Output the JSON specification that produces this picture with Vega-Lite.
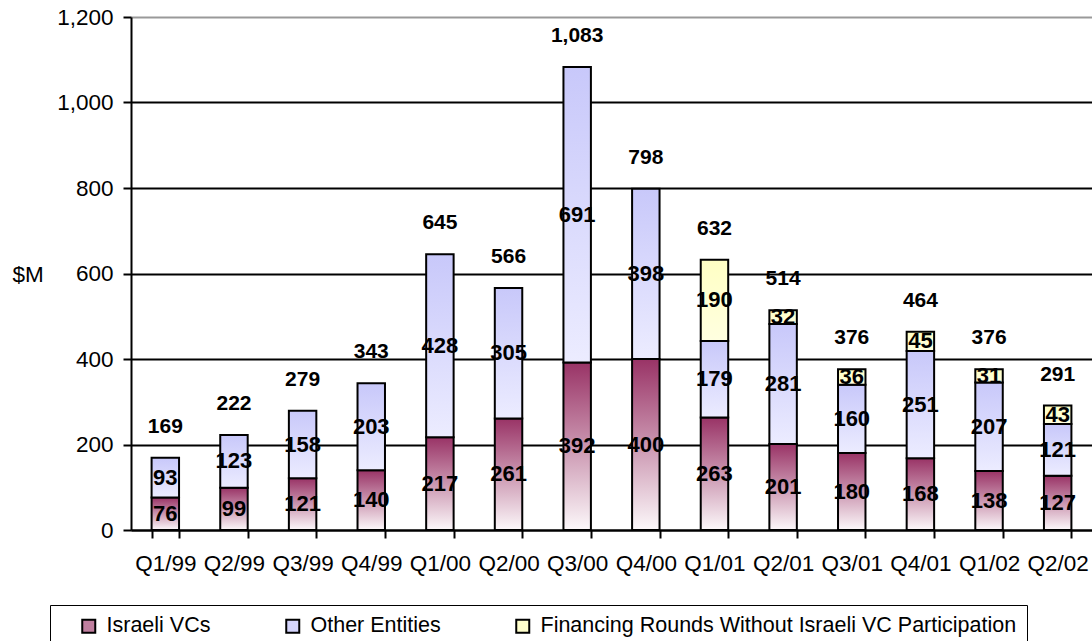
{
  "$schema": "https://vega.github.io/schema/vega-lite/v6.json",
  "width": 961,
  "height": 513,
  "autosize": "none",
  "padding": {"left": 131, "top": 17, "right": 0, "bottom": 111},
  "config": {"font": "Liberation Sans", "view": {"stroke": null}},
  "data": {
    "values": [
      {"quarter": "Q1/99", "series": "Israeli VCs", "amount": 76},
      {"quarter": "Q1/99", "series": "Other Entities", "amount": 93},
      {"quarter": "Q2/99", "series": "Israeli VCs", "amount": 99},
      {"quarter": "Q2/99", "series": "Other Entities", "amount": 123},
      {"quarter": "Q3/99", "series": "Israeli VCs", "amount": 121},
      {"quarter": "Q3/99", "series": "Other Entities", "amount": 158},
      {"quarter": "Q4/99", "series": "Israeli VCs", "amount": 140},
      {"quarter": "Q4/99", "series": "Other Entities", "amount": 203},
      {"quarter": "Q1/00", "series": "Israeli VCs", "amount": 217},
      {"quarter": "Q1/00", "series": "Other Entities", "amount": 428},
      {"quarter": "Q2/00", "series": "Israeli VCs", "amount": 261},
      {"quarter": "Q2/00", "series": "Other Entities", "amount": 305},
      {"quarter": "Q3/00", "series": "Israeli VCs", "amount": 392},
      {"quarter": "Q3/00", "series": "Other Entities", "amount": 691},
      {"quarter": "Q4/00", "series": "Israeli VCs", "amount": 400},
      {"quarter": "Q4/00", "series": "Other Entities", "amount": 398},
      {"quarter": "Q1/01", "series": "Israeli VCs", "amount": 263},
      {"quarter": "Q1/01", "series": "Other Entities", "amount": 179},
      {"quarter": "Q1/01", "series": "Financing Rounds Without Israeli VC Participation", "amount": 190},
      {"quarter": "Q2/01", "series": "Israeli VCs", "amount": 201},
      {"quarter": "Q2/01", "series": "Other Entities", "amount": 281},
      {"quarter": "Q2/01", "series": "Financing Rounds Without Israeli VC Participation", "amount": 32},
      {"quarter": "Q3/01", "series": "Israeli VCs", "amount": 180},
      {"quarter": "Q3/01", "series": "Other Entities", "amount": 160},
      {"quarter": "Q3/01", "series": "Financing Rounds Without Israeli VC Participation", "amount": 36},
      {"quarter": "Q4/01", "series": "Israeli VCs", "amount": 168},
      {"quarter": "Q4/01", "series": "Other Entities", "amount": 251},
      {"quarter": "Q4/01", "series": "Financing Rounds Without Israeli VC Participation", "amount": 45},
      {"quarter": "Q1/02", "series": "Israeli VCs", "amount": 138},
      {"quarter": "Q1/02", "series": "Other Entities", "amount": 207},
      {"quarter": "Q1/02", "series": "Financing Rounds Without Israeli VC Participation", "amount": 31},
      {"quarter": "Q2/02", "series": "Israeli VCs", "amount": 127},
      {"quarter": "Q2/02", "series": "Other Entities", "amount": 121},
      {"quarter": "Q2/02", "series": "Financing Rounds Without Israeli VC Participation", "amount": 43}
    ]
  },
  "transform": [
    {"calculate": "indexof(['Israeli VCs','Other Entities','Financing Rounds Without Israeli VC Participation'], datum.series)", "as": "k"},
    {"stack": "amount", "groupby": ["quarter"], "sort": [{"field": "k", "order": "ascending"}], "as": ["v0", "v1"]},
    {"calculate": "(datum.v0 + datum.v1) / 2", "as": "mid"}
  ],
  "encoding": {
    "x": {
      "field": "quarter",
      "type": "nominal",
      "sort": null,
      "scale": {"paddingInner": 0.6, "paddingOuter": 0.3},
      "axis": {
        "title": null,
        "labelAngle": 0,
        "labelFontSize": 22.5,
        "labelColor": "black",
        "labelPadding": 14,
        "domainColor": "black",
        "domainWidth": 2,
        "tickColor": "black",
        "tickWidth": 2,
        "tickSize": 8,
        "tickBand": "extent"
      }
    }
  },
  "layer": [
    {
      "mark": {"type": "bar", "opacity": 0, "stroke": "black", "strokeWidth": 2},
      "encoding": {
        "y": {
          "field": "v1",
          "type": "quantitative",
          "title": "$M",
          "scale": {"domain": [0, 1200]},
          "axis": {
            "values": [0, 200, 400, 600, 800, 1000, 1200],
            "format": ",",
            "labelExpr": "format(datum.value, ',')",
            "labelFontSize": 22.5,
            "labelColor": "black",
            "labelPadding": 10,
            "tickSize": 8,
            "tickWidth": 2,
            "tickColor": "black",
            "domainColor": "black",
            "domainWidth": 2,
            "grid": true,
            "gridColor": {"condition": {"test": "datum.value === 1200", "value": "#999999"}, "value": "black"},
            "gridWidth": 2,
            "titleAngle": 0,
            "titleFontSize": 22.5,
            "titleFontWeight": "normal",
            "titleColor": "black",
            "titleAlign": "left",
            "titleBaseline": "middle",
            "titleX": -119,
            "titleY": 257
          }
        },
        "y2": {"field": "v0"},
        "color": {
          "field": "series",
          "type": "nominal",
          "scale": {
            "domain": ["Israeli VCs", "Other Entities", "Financing Rounds Without Israeli VC Participation"],
            "range": ["#c07f9f", "#d4d4fc", "#ffffcc"]
          },
          "legend": {
            "title": " ",
            "titleOrient": "left",
            "titleFontSize": 22,
            "titlePadding": 18,
            "orient": "none",
            "legendX": -81,
            "legendY": 588,
            "direction": "horizontal",
            "columns": 3,
            "columnPadding": 71,
            "padding": 10,
            "strokeColor": "black",
            "symbolType": "square",
            "symbolSize": 169,
            "symbolStrokeColor": "black",
            "symbolStrokeWidth": 2,
            "symbolOpacity": 1,
            "labelFontSize": 21.5,
            "labelColor": "black",
            "labelOffset": 7,
            "labelLimit": 0
          }
        }
      }
    },
    {
      "transform": [{"filter": "datum.k === 0"}],
      "mark": {
        "type": "bar", "stroke": "black", "strokeWidth": 2,
        "color": {"gradient": "linear", "x1": 0, "y1": 0, "x2": 0, "y2": 1, "stops": [{"offset": 0, "color": "#993366"}, {"offset": 1, "color": "#fcf8fa"}]}
      },
      "encoding": {"y": {"field": "v1", "type": "quantitative", "title": "$M", "axis": {"format": ",", "labelExpr": "format(datum.value, ',')"}}, "y2": {"field": "v0"}}
    },
    {
      "transform": [{"filter": "datum.k === 1"}],
      "mark": {
        "type": "bar", "stroke": "black", "strokeWidth": 2,
        "color": {"gradient": "linear", "x1": 0, "y1": 0, "x2": 0, "y2": 1, "stops": [{"offset": 0, "color": "#c8c8fa"}, {"offset": 1, "color": "#ececff"}]}
      },
      "encoding": {"y": {"field": "v1", "type": "quantitative", "title": "$M", "axis": {"format": ",", "labelExpr": "format(datum.value, ',')"}}, "y2": {"field": "v0"}}
    },
    {
      "transform": [{"filter": "datum.k === 2"}],
      "mark": {
        "type": "bar", "stroke": "black", "strokeWidth": 2,
        "color": {"gradient": "linear", "x1": 0, "y1": 0, "x2": 0, "y2": 1, "stops": [{"offset": 0, "color": "#ffffc4"}, {"offset": 1, "color": "#ffffe0"}]}
      },
      "encoding": {"y": {"field": "v1", "type": "quantitative", "title": "$M", "axis": {"format": ",", "labelExpr": "format(datum.value, ',')"}}, "y2": {"field": "v0"}}
    },
    {
      "mark": {"type": "text", "fontWeight": "bold", "fontSize": 22, "baseline": "middle", "color": "black"},
      "encoding": {
        "y": {"field": "mid", "type": "quantitative", "title": "$M", "axis": {"format": ",", "labelExpr": "format(datum.value, ',')"}},
        "text": {"field": "amount", "type": "quantitative"}
      }
    },
    {
      "mark": {"type": "text", "fontWeight": "bold", "fontSize": 21, "baseline": "middle", "dy": -31, "color": "black"},
      "encoding": {
        "y": {"aggregate": "sum", "field": "amount", "type": "quantitative", "title": "$M", "axis": {"format": ",", "labelExpr": "format(datum.value, ',')"}},
        "text": {"aggregate": "sum", "field": "amount", "type": "quantitative", "format": ","}
      }
    }
  ]
}
